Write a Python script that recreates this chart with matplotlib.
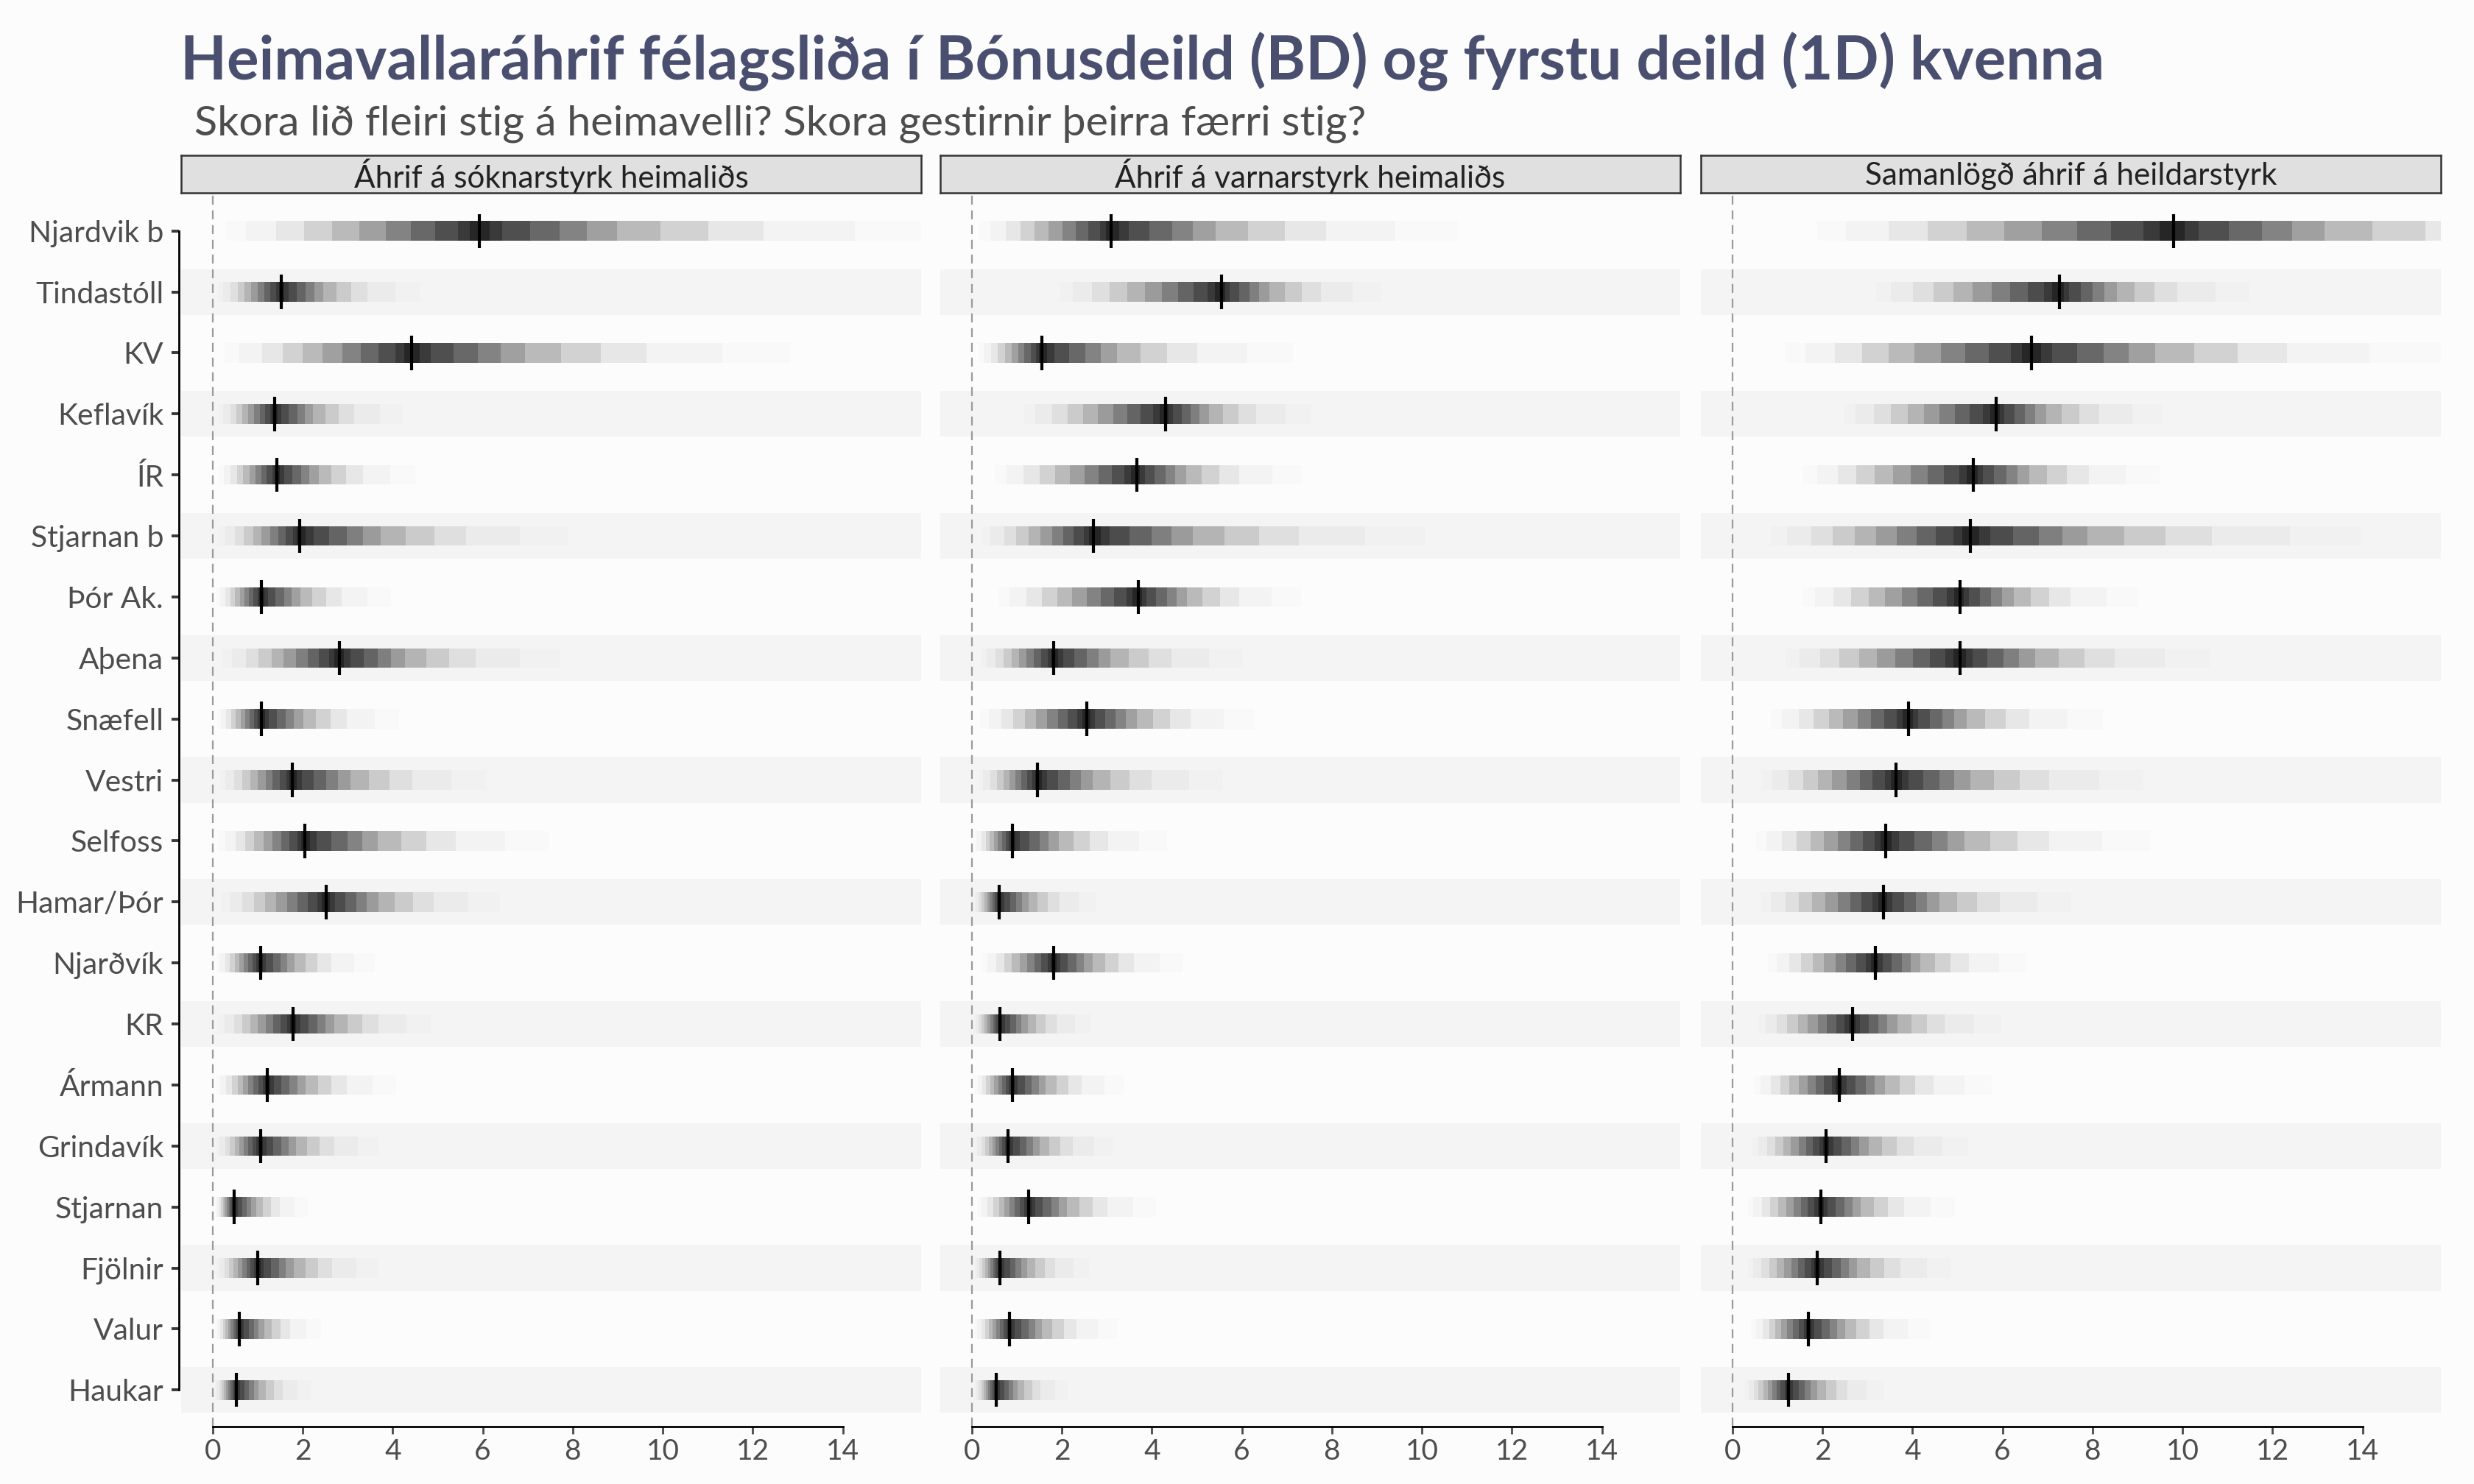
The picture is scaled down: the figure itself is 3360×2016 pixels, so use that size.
"""Heimavallaráhrif - gradient interval chart (sókn / vörn / samanlagt)"""
import numpy as np
import matplotlib
matplotlib.use("Agg")
import matplotlib.pyplot as plt

plt.rcParams['font.family'] = ['Lato', 'DejaVu Sans']

# lið, raðað eftir samanlögðum áhrifum
teams = ["Njardvik b", "Tindastóll", "KV", "Keflavík", "ÍR", "Stjarnan b", "Þór Ak.",
         "Aþena", "Snæfell", "Vestri", "Selfoss", "Hamar/Þór", "Njarðvík", "KR",
         "Ármann", "Grindavík", "Stjarnan", "Fjölnir", "Valur", "Haukar"]

panel_titles = ["Áhrif á sóknarstyrk heimaliðs", "Áhrif á varnarstyrk heimaliðs",
                "Samanlögð áhrif á heildarstyrk"]

# sókn: miðgildi, ytri neðri mörk, ytri efri mörk
sokn_med = [5.93, 1.53, 4.42, 1.38, 1.43, 1.94, 1.08, 2.81, 1.09, 1.77,
            2.04, 2.52, 1.06, 1.79, 1.21, 1.06, 0.47, 1.00, 0.60, 0.52]
sokn_lo = [0.29, 0.12, 0.26, 0.14, 0.14, 0.14, 0.08, 0.22, 0.10, 0.16,
           0.12, 0.19, 0.08, 0.14, 0.08, 0.08, 0.05, 0.08, 0.06, 0.05]
sokn_hi = [16.1, 4.62, 12.83, 4.23, 4.50, 7.90, 3.96, 7.71, 4.15, 6.08,
           7.47, 6.38, 3.60, 4.85, 4.07, 3.70, 2.11, 3.68, 2.41, 2.19]

# vörn
vorn_med = [3.10, 5.55, 1.55, 4.30, 3.66, 2.70, 3.70, 1.82, 2.55, 1.46,
            0.90, 0.61, 1.82, 0.63, 0.90, 0.81, 1.27, 0.63, 0.84, 0.54]
vorn_lo = [0.17, 1.95, 0.15, 1.16, 0.53, 0.22, 0.59, 0.20, 0.19, 0.15,
           0.04, 0.04, 0.22, 0.04, 0.06, 0.06, 0.12, 0.06, 0.06, 0.06]
vorn_hi = [10.80, 9.10, 7.13, 7.55, 7.34, 10.06, 7.32, 6.03, 6.27, 5.56,
           4.34, 2.76, 4.70, 2.66, 3.39, 3.13, 4.09, 2.61, 3.24, 2.14]

# samanlagt
heild_med = [9.80, 7.27, 6.65, 5.86, 5.36, 5.29, 5.06, 5.06, 3.91, 3.64,
             3.40, 3.35, 3.17, 2.67, 2.37, 2.08, 1.96, 1.88, 1.69, 1.24]
heild_lo = [1.89, 3.20, 1.18, 2.47, 1.58, 0.86, 1.55, 1.18, 0.86, 0.65,
            0.53, 0.63, 0.79, 0.57, 0.47, 0.44, 0.34, 0.34, 0.42, 0.28]
heild_hi = [21.0, 11.49, 15.8, 9.55, 9.49, 13.95, 9.02, 10.60, 8.23, 9.13,
            9.28, 7.52, 6.53, 5.97, 5.76, 5.23, 4.95, 4.86, 4.39, 3.37]

panels = [(sokn_med, sokn_lo, sokn_hi), (vorn_med, vorn_lo, vorn_hi),
          (heild_med, heild_lo, heild_hi)]

# band shape (outer -> inner) and darkness of each band (black with alpha)
LEFT_FRAC = [1.0, 0.92, 0.80, 0.69, 0.58, 0.475, 0.37, 0.27, 0.175, 0.085, 0.04]
RIGHT_FRAC = [1.0, 0.82, 0.62, 0.50, 0.395, 0.30, 0.235, 0.175, 0.11, 0.05, 0.022]
ALPHAS = [0.01, 0.036, 0.083, 0.163, 0.258, 0.365, 0.48, 0.587, 0.687, 0.77, 0.85]

BG = '#fcfcfc'
W, H = 3360, 2016
fig = plt.figure(figsize=(W / 200, H / 200), dpi=200, facecolor=BG)

fig.text(245 / W, 1 - 108 / H, "Heimavallaráhrif félagsliða í Bónusdeild (BD) og fyrstu deild (1D) kvenna",
         fontsize=29.4, fontweight='bold', color='#4a4f70', va='baseline', ha='left')
fig.text(264 / W, 1 - 183 / H, "Skora lið fleiri stig á heimavelli? Skora gestirnir þeirra færri stig?",
         fontsize=20.7, color='#4d4d4d', va='baseline', ha='left')

panel_x = [246, 1277, 2310]
panel_w = 1005
p_top, p_bot = 264, 1938
rows = np.arange(len(teams))
n = len(ALPHAS)

for i, (med, lo, hi) in enumerate(panels):
    med, lo, hi = np.array(med), np.array(lo), np.array(hi)
    ax = fig.add_axes([panel_x[i] / W, 1 - p_bot / H, panel_w / W, (p_bot - p_top) / H])
    ax.set_facecolor(BG)
    for r in rows[1::2]:
        ax.axhspan(r - 0.375, r + 0.375, color='#f4f4f4', lw=0, zorder=0)
    ax.axvline(0, color='#9a9a9a', lw=0.8, dashes=(5.5, 3.5), zorder=1)

    lefts = [med - (med - lo) * f for f in LEFT_FRAC]
    rights = [med + (hi - med) * f for f in RIGHT_FRAC]
    for k in range(n):
        c = (0, 0, 0, ALPHAS[k])
        if k < n - 1:
            # left and right pieces of this band, no overlap with inner bands
            ax.barh(rows, lefts[k + 1] - lefts[k], left=lefts[k], height=0.32, color=c, lw=0, zorder=2)
            ax.barh(rows, rights[k] - rights[k + 1], left=rights[k + 1], height=0.32, color=c, lw=0, zorder=2)
        else:
            ax.barh(rows, rights[k] - lefts[k], left=lefts[k], height=0.32, color=c, lw=0, zorder=2)
    ax.vlines(med, rows - 0.28, rows + 0.28, color='black', lw=1.5, zorder=3)

    ax.set_xlim(-0.70, 15.74)
    ax.set_ylim(19.6, -0.6)
    ax.set_xticks(range(0, 15, 2))
    for s in ['top', 'right', 'left']:
        ax.spines[s].set_visible(False)
    ax.spines['bottom'].set_bounds(0, 14)
    ax.spines['bottom'].set_linewidth(1.0)
    ax.spines['bottom'].set_color('black')
    ax.tick_params(axis='x', length=3.6, width=1.0, color='#4a4a4a', labelsize=14,
                   labelcolor='#4d4d4d', pad=2)
    if i == 0:
        ax.spines['left'].set_visible(True)
        ax.spines['left'].set_bounds(0, 19)
        ax.spines['left'].set_position(('outward', 1))
        ax.spines['left'].set_linewidth(1.0)
        ax.spines['left'].set_color('black')
        ax.set_yticks(rows)
        ax.set_yticklabels(teams)
        ax.tick_params(axis='y', length=3.6, width=1.4, color='#3a3a3a', labelsize=14.7,
                       labelcolor='#4d4d4d', pad=4)
    else:
        ax.set_yticks([])

    # facet strip
    sax = fig.add_axes([panel_x[i] / W, 1 - 262 / H, panel_w / W, 51 / H])
    sax.set_facecolor('#e0e0e0')
    sax.set_xticks([]); sax.set_yticks([])
    for s in sax.spines.values():
        s.set_color('#333333'); s.set_linewidth(0.9)
    sax.text(0.5, 0.45, panel_titles[i], ha='center', va='center', fontsize=15.2, color='#222222',
             transform=sax.transAxes)

fig.savefig("out.png", dpi=200, facecolor=BG)
